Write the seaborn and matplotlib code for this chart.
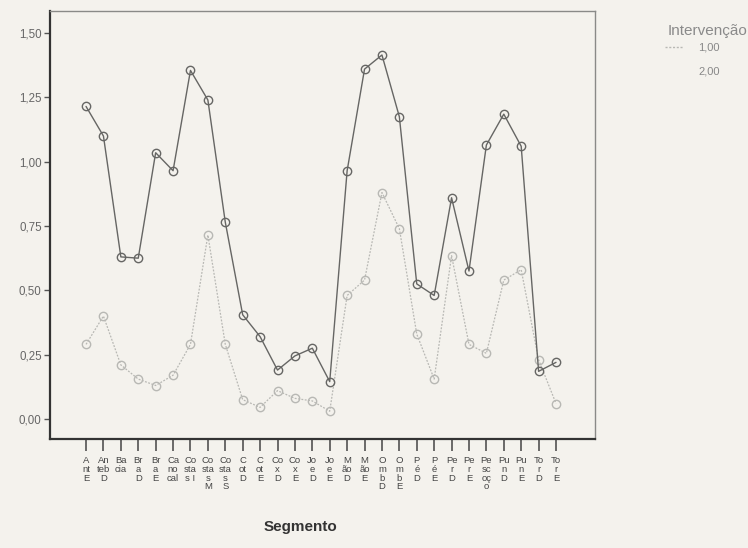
import matplotlib
matplotlib.use("Agg")
import matplotlib.pyplot as plt
import seaborn as sns
import pandas as pd
from matplotlib.lines import Line2D

categories = ["Ant E", "Anteb D", "Bacia", "Bra D", "Bra E", "Canocal", "Costas I",
              "Costas M", "Costas S", "Cot D", "Cot E", "Cox D", "Cox E", "Joe D",
              "Joe E", "Mão D", "Mão E", "Omb D", "Omb E", "Pé D", "Pé E", "Per D",
              "Per E", "Pescoço", "Pun D", "Pun E", "Tor D", "Tor E"]
tick_labels = ["A\nnt\nE", "An\nteb\nD", "Ba\ncia", "Br\na\nD", "Br\na\nE", "Ca\nno\ncal",
               "Co\nsta\ns I", "Co\nsta\ns\nM", "Co\nsta\ns\nS", "C\not\nD", "C\not\nE",
               "Co\nx\nD", "Co\nx\nE", "Jo\ne\nD", "Jo\ne\nE", "M\não\nD", "M\não\nE",
               "O\nm\nb\nD", "O\nm\nb\nE", "P\né\nD", "P\né\nE", "Pe\nr\nD", "Pe\nr\nE",
               "Pe\nsc\noç\no", "Pu\nn\nD", "Pu\nn\nE", "To\nr\nD", "To\nr\nE"]
interv_1 = [0.29, 0.40, 0.21, 0.155, 0.13, 0.17, 0.29, 0.715, 0.29, 0.075, 0.045,
            0.11, 0.08, 0.07, 0.03, 0.48, 0.54, 0.88, 0.74, 0.33, 0.155, 0.635,
            0.29, 0.255, 0.54, 0.58, 0.23, 0.06]
interv_2 = [1.215, 1.10, 0.63, 0.625, 1.035, 0.965, 1.355, 1.24, 0.765, 0.405, 0.32,
            0.19, 0.245, 0.275, 0.145, 0.965, 1.36, 1.415, 1.175, 0.525, 0.48, 0.86,
            0.575, 1.065, 1.185, 1.06, 0.185, 0.22]
y_ticks = [0.0, 0.25, 0.5, 0.75, 1.0, 1.25, 1.5]
y_tick_labels = ["0,00", "0,25", "0,50", "0,75", "1,00", "1,25", "1,50"]
legend_title = "Intervenção"
legend_labels = ["1,00", "2,00"]

sns.set_theme(style="white")
plt.rcParams['font.family'] = ['Liberation Sans', 'DejaVu Sans']

bg = "#f4f2ed"
fig = plt.figure(figsize=(7.48, 5.48), dpi=100, facecolor=bg)
ax = fig.add_axes([50/748, 1-439/548, 545/748, 428/548])
ax.set_facecolor(bg)

df1 = pd.DataFrame({"x": range(len(categories)), "y": interv_1})
df2 = pd.DataFrame({"x": range(len(categories)), "y": interv_2})

c1 = "#b8b8b4"
c2 = "#666664"
sns.lineplot(data=df1, x="x", y="y", ax=ax, color=c1, lw=0.9, linestyle=(0, (1.5, 1.2)),
             marker="o", markersize=6, markerfacecolor="none", markeredgecolor=c1,
             markeredgewidth=1.0)
sns.lineplot(data=df2, x="x", y="y", ax=ax, color=c2, lw=1.0,
             marker="o", markersize=6, markerfacecolor="none", markeredgecolor=c2,
             markeredgewidth=1.0)

ax.set_xlim(-2.07, len(categories) - 1 + 2.24)
ax.set_ylim(-0.078, 1.586)
ax.set_xticks(range(len(categories)))
ax.set_xticklabels(tick_labels, fontsize=6.8, color="#444444", linespacing=0.95,
                   va="top")
ax.set_yticks(y_ticks)
ax.set_yticklabels(y_tick_labels, fontsize=8.3, color="#666666")
ax.tick_params(axis="x", direction="out", length=8.5, width=1.1, color="#444444", pad=4,
               bottom=True)
ax.tick_params(axis="y", direction="out", length=4, width=1.0, color="#555555", pad=2,
               left=True)

for side in ["top", "right"]:
    ax.spines[side].set_color("#8a8a88")
    ax.spines[side].set_linewidth(1.0)
for side in ["left", "bottom"]:
    ax.spines[side].set_color("#333333")
    ax.spines[side].set_linewidth(1.6)

ax.set_xlabel("Segmento", fontsize=11, fontweight="bold", color="#333333")
ax.xaxis.set_label_coords(0.46, -0.19)
ax.set_ylabel("")

fig.text(747/748, 1-30.5/548, legend_title, fontsize=11, color="#8a8a8a",
         ha="right", va="center")
handles = [Line2D([0], [0], color=c1, lw=1.0, linestyle=(0, (1.5, 1.2))),
           Line2D([0], [0], color=bg, lw=1.0)]
leg = fig.legend(handles, legend_labels, loc="upper left",
                 bbox_to_anchor=(665/748, 1-43/548), frameon=False, fontsize=8,
                 handlelength=1.6, handletextpad=1.4, labelspacing=1.2,
                 borderaxespad=0.0, borderpad=0.0)
for t in leg.get_texts():
    t.set_color("#888888")

fig.savefig("out.png", dpi=100, facecolor=bg)
